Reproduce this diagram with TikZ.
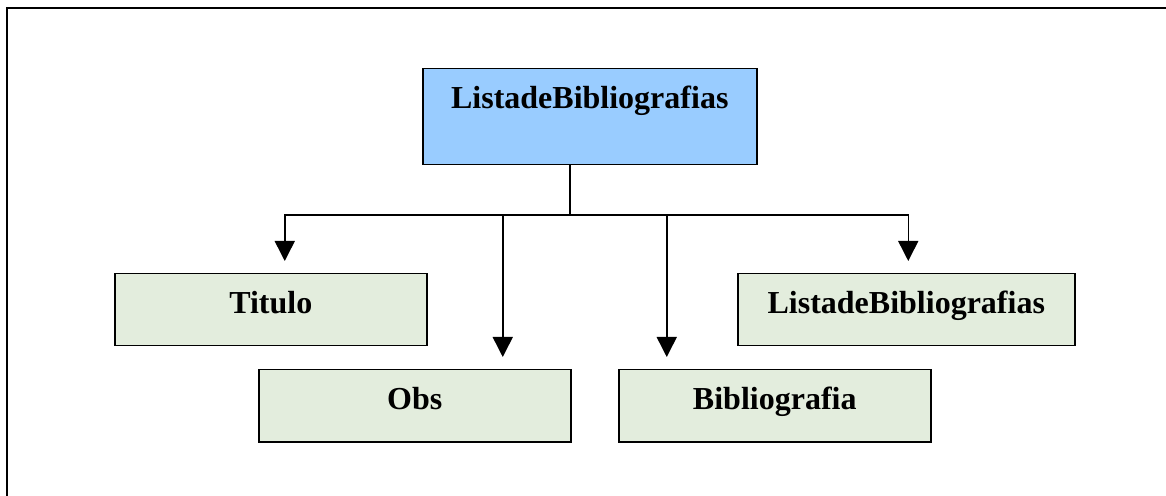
\documentclass[tikz,border=0pt]{standalone}
\usepackage{fontspec}
\setmainfont{Liberation Serif}
\usetikzlibrary{arrows.meta}

\definecolor{rootblue}{HTML}{99CCFF}
\definecolor{leafgreen}{HTML}{E3EDDD}

\tikzset{
  rootbox/.style={draw=black, line width=0.75pt, fill=rootblue,
    minimum width=167pt, inner xsep=0pt, inner ysep=0pt,
    text height=20pt, text depth=28pt,
    font=\fontsize{16}{19}\selectfont\bfseries},
  leafbox/.style={draw=black, line width=0.75pt, fill=leafgreen,
    minimum width=156pt, inner xsep=0pt, inner ysep=0pt,
    text height=20pt, text depth=16pt,
    font=\fontsize{16}{19}\selectfont\bfseries},
  bus/.style={line width=0.75pt},
  arr/.style={line width=0.75pt, -{Triangle[width=10pt,length=10pt]}, shorten >=6pt}
}

\begin{document}
\begin{tikzpicture}[x=0.5pt, y=-0.5pt]
\def \ytop {68}
\def \yrowa {273}
\def \yrowb {369}
\def \ybus {215}

\useasboundingbox (0,0) rectangle (1166,496);
% frame
\draw[line width=1.4pt] (7,496) -- (7,8) -- (1166,8);

% root
\node[rootbox, anchor=north west] (lista) at (422,\ytop) {ListadeBibliografias};

% children, two rows
\node[leafbox, anchor=north west] (titulo) at (114,\yrowa) {Titulo};
\node[leafbox, anchor=north west, minimum width=168.5pt] (sublista) at (737,\yrowa) {ListadeBibliografias};
\node[leafbox, anchor=north west] (obs) at (258,\yrowb) {Obs};
\node[leafbox, anchor=north west] (biblio) at (618,\yrowb) {Bibliografia};

% bus and arrows
\coordinate (split) at (570,\ybus);
\draw[bus] (lista.south -| split) -- (split);
\draw[arr] (split) -| ([xshift=7pt]titulo.north);
\draw[arr] (split) -| ([xshift=44pt]obs.north);
\draw[arr] (split) -| ([xshift=-54pt]biblio.north);
\draw[arr] (split) -| ([xshift=1pt]sublista.north);

\end{tikzpicture}
\end{document}
